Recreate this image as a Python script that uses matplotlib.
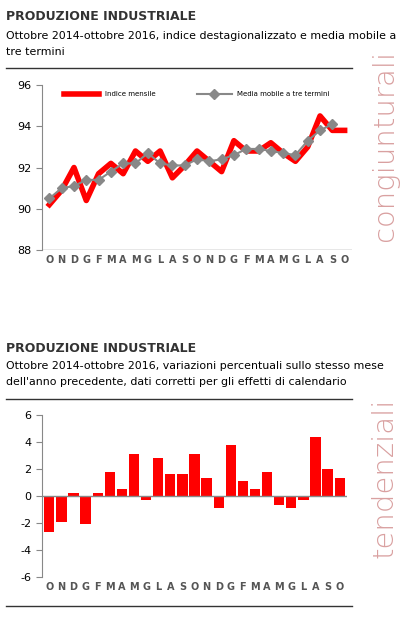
import matplotlib
matplotlib.use("Agg")
import matplotlib.pyplot as plt
import numpy as np

plt.rcParams["axes.unicode_minus"] = False

months = list("ONDGFMAMGLASONDGFMAMGLASO")
indice = [90.2,90.9,92.0,90.4,91.7,92.2,91.7,92.8,92.3,92.8,91.5,92.1,92.8,92.3,91.8,93.3,92.8,92.8,93.2,92.7,92.3,93.0,94.5,93.8,93.8]
media = [90.5,91.0,91.1,91.4,91.4,91.8,92.2,92.2,92.7,92.2,92.1,92.1,92.4,92.3,92.4,92.6,92.9,92.9,92.8,92.7,92.6,93.3,93.8,94.1,np.nan]
tend = [-2.65,-1.95,0.25,-2.05,0.25,1.75,0.5,3.1,-0.3,2.85,1.6,1.6,3.1,1.35,-0.9,3.8,1.1,0.5,1.75,-0.65,-0.9,-0.3,4.35,2.0,1.35]

W, H = 402, 628
fig = plt.figure(figsize=(W/100, H/100), dpi=100)
fig.patch.set_facecolor("white")
x = np.arange(len(months))
grey = "#888888"

def style(ax):
    for s in ["top", "right", "bottom"]:
        ax.spines[s].set_visible(False)
    ax.spines["left"].set_color(grey)
    ax.tick_params(axis="y", colors=grey, labelcolor="black", labelsize=8, length=4)
    ax.tick_params(axis="x", length=0, labelsize=7, labelcolor="#555555")
    ax.set_xticks(x)
    ax.set_xticklabels(months, fontweight="bold")
    ax.set_xlim(-0.6, len(months) - 0.4)

# Top
ax1 = fig.add_axes([42/W, 1-250/H, 310/W, 165/H])
ax1.plot(x, indice, color="#ff0000", lw=4, label="Indice mensile", zorder=2)
ax1.plot(x, media, color=grey, lw=1.5, marker="D", ms=5, label="Media mobile a tre termini", zorder=3)
ax1.set_ylim(88, 96)
ax1.set_yticks([88, 90, 92, 94, 96])
ax1.axhline(88, color=grey, lw=1)
style(ax1)
ax1.legend(loc="upper center", ncol=2, frameon=False, fontsize=5, handlelength=5, columnspacing=6, bbox_to_anchor=(0.5, 1.0))

# Bottom
ax2 = fig.add_axes([42/W, 1-577/H, 305/W, 162/H])
ax2.bar(x, tend, color="#ff0000", width=0.85, zorder=2)
ax2.axhline(0, color=grey, lw=1, zorder=3)
ax2.set_ylim(-6, 6)
ax2.set_yticks([-6, -4, -2, 0, 2, 4, 6])
style(ax2)

# Titles
fig.text(6/W, 1-16/H, "PRODUZIONE INDUSTRIALE", fontsize=9, fontweight="bold", color="#333333", va="center")
fig.text(6/W, 1-36/H, "Ottobre 2014-ottobre 2016, indice destagionalizzato e media mobile a", fontsize=7.9, va="center")
fig.text(6/W, 1-52/H, "tre termini", fontsize=7.9, va="center")
fig.text(6/W, 1-349/H, "PRODUZIONE INDUSTRIALE", fontsize=9, fontweight="bold", color="#333333", va="center")
fig.text(6/W, 1-366/H, "Ottobre 2014-ottobre 2016, variazioni percentuali sullo stesso mese", fontsize=7.9, va="center")
fig.text(6/W, 1-382/H, "dell'anno precedente, dati corretti per gli effetti di calendario", fontsize=7.9, va="center")

for yy in [68, 399, 606]:
    fig.add_artist(plt.Line2D([6/W, 352/W], [1-yy/H, 1-yy/H], color="#333333", lw=1))

fig.text(385/W, 1-145/H, "congiunturali", rotation=90, fontsize=21, color="#d9a0a0", va="center", ha="center", fontweight="light")
fig.text(385/W, 1-478/H, "tendenziali", rotation=90, fontsize=21, color="#d9a0a0", va="center", ha="center", fontweight="light")

fig.savefig("out.png", dpi=100)
